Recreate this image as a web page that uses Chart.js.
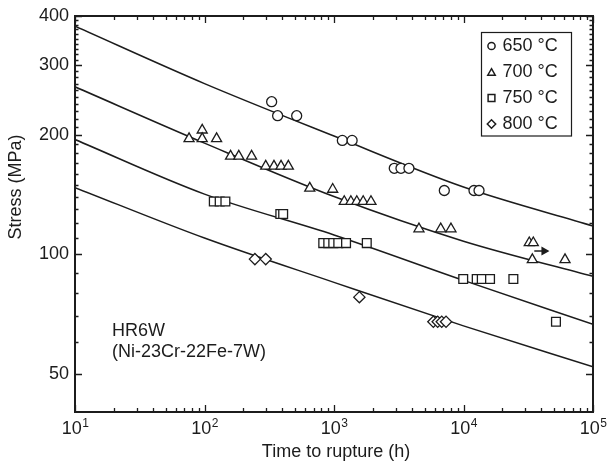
<!DOCTYPE html>
<html><head><meta charset="utf-8">
<script src="https://cdn.jsdelivr.net/npm/chart.js@4"></script>
<style>html,body{margin:0;padding:0;background:#fff;}#wrap{width:609px;height:464px;position:relative;}canvas{display:block;}</style>
</head><body><div id="wrap"><canvas id="c" width="609" height="464" style="width:609px;height:464px"></canvas></div>
<script>
// ---- data ----
const t650 = [330, 367, 515, 1160, 1380, 2920, 3290, 3790, 7110, 12050, 13180];
const s650 = [243, 224, 224, 194, 194, 165, 165, 165, 145, 145, 145];
const t700 = [76, 96, 96, 124, 159, 184, 231, 297, 344, 390, 444, 650, 977, 1200, 1350, 1500, 1680, 1930, 4530, 6670, 8000, 32200, 34600, 34000, 60800];
const s700 = [196, 206, 196, 196, 177, 177, 177, 167, 167, 167, 167, 147, 146, 136, 136, 136, 136, 136, 116, 116, 116, 107, 107, 97, 97];
const t750 = [118, 131, 145, 385, 405, 826, 903, 987, 1079, 1239, 1791, 9950, 12650, 13840, 16030, 24270, 51760];
const s750 = [136, 136, 136, 126.5, 126.5, 106.8, 106.8, 106.8, 106.8, 106.8, 106.8, 86.7, 86.7, 86.7, 86.7, 86.7, 67.6];
const t800 = [245, 297, 1570, 5850, 6320, 6790, 7330];
const s800 = [97.3, 97.3, 78, 67.6, 67.6, 67.6, 67.6];
// run-out arrow (700 °C)
const arrowT = [35200, 41900];
const arrowS = [102, 102];
// fitted curves
const fitT = [10, 100, 1000, 10000, 100000];
const fit650 = [377, 270, 199, 148, 118];
const fit700 = [265, 191, 140, 108, 88];
const fit750 = [195, 142, 112, 86, 66.6];
const fit800 = [147.5, 110, 85, 66, 52];
// axes
const xTickValues = [10, 100, 1000, 10000, 100000];
const xTickBase = ['10', '10', '10', '10', '10'];
const xTickExp = ['1', '2', '3', '4', '5'];
const yTickValues = [50, 100, 200, 300, 400];
const yTickLabels = ['50', '100', '200', '300', '400'];
const seriesLabels = ['650 °C', '700 °C', '750 °C', '800 °C'];
const xTitle = 'Time to rupture (h)';
const yTitle = 'Stress (MPa)';
const noteLines = ['HR6W', '(Ni-23Cr-22Fe-7W)'];

const FONT = '"Liberation Sans", Arial, Helvetica, sans-serif';
const INK = '#1c1c1c';

function pts(t, s) { return t.map((v, i) => ({ x: v, y: s[i] })); }
function markers(label, t, s, style, r) {
  return { label, data: pts(t, s), showLine: false, pointStyle: style, pointRadius: r, pointHoverRadius: r,
    pointBorderColor: INK, pointBackgroundColor: '#fff', pointBorderWidth: 1.3, order: 1 };
}
function fit(t, s) {
  return { label: '_fit', data: pts(t, s), showLine: true, pointRadius: 0, borderColor: INK, borderWidth: 1.5,
    cubicInterpolationMode: 'monotone', fill: false, order: 2 };
}

const legendStyles = [
  { pointStyle: 'circle', radius: 3.6 },
  { pointStyle: 'triangle', radius: 4.3 },
  { pointStyle: 'rect', radius: 4.8 },
  { pointStyle: 'rectRot', radius: 4.2 }
];

const decor = {
  id: 'decor',
  afterDraw(chart) {
    const ctx = chart.ctx, a = chart.chartArea, xs = chart.scales.x, ys = chart.scales.y;
    ctx.save();
    // frame
    ctx.strokeStyle = INK; ctx.lineWidth = 2;
    ctx.strokeRect(a.left, a.top, a.right - a.left, a.bottom - a.top);
    ctx.lineWidth = 1.3;
    // x ticks (top + bottom, inward)
    ctx.beginPath();
    for (let e = 1; e <= 5; e++) {
      for (let m = 1; m <= 9; m++) {
        const v = m * Math.pow(10, e);
        if (v > 100000) break;
        const px = Math.round(xs.getPixelForValue(v)) + 0.5;
        const len = m === 1 ? 7 : 4;
        ctx.moveTo(px, a.bottom); ctx.lineTo(px, a.bottom - len);
        ctx.moveTo(px, a.top); ctx.lineTo(px, a.top + len);
      }
    }
    // y ticks (left + right, inward)
    for (let v = 50; v <= 400; v += 10) {
      const py = Math.round(ys.getPixelForValue(v)) + 0.5;
      const len = yTickValues.includes(v) ? 7 : 3.5;
      ctx.moveTo(a.left, py); ctx.lineTo(a.left + len, py);
      ctx.moveTo(a.right, py); ctx.lineTo(a.right - len, py);
    }
    ctx.stroke();
    // tick labels
    ctx.fillStyle = INK;
    ctx.font = '18px ' + FONT;
    ctx.textAlign = 'right'; ctx.textBaseline = 'middle';
    yTickValues.forEach((v, i) => ctx.fillText(yTickLabels[i], a.left - 6, ys.getPixelForValue(v)));
    ctx.textAlign = 'left'; ctx.textBaseline = 'alphabetic';
    xTickValues.forEach((v, i) => {
      ctx.font = '18px ' + FONT;
      const wb = ctx.measureText(xTickBase[i]).width;
      ctx.font = '12px ' + FONT;
      const we = ctx.measureText(xTickExp[i]).width;
      const x0 = xs.getPixelForValue(v) - (wb + we) / 2;
      ctx.font = '18px ' + FONT;
      ctx.fillText(xTickBase[i], x0, a.bottom + 22);
      ctx.font = '12px ' + FONT;
      ctx.fillText(xTickExp[i], x0 + wb + 0.5, a.bottom + 15);
    });
    // axis titles
    ctx.font = '18px ' + FONT;
    ctx.textAlign = 'center'; ctx.textBaseline = 'middle';
    ctx.fillText(xTitle, (a.left + a.right) / 2 + 2, a.bottom + 40);
    ctx.save();
    ctx.translate(16, 187); ctx.rotate(-Math.PI / 2);
    ctx.fillText(yTitle, 0, 0);
    ctx.restore();
    // note
    ctx.textAlign = 'left'; ctx.textBaseline = 'alphabetic';
    ctx.fillText(noteLines[0], a.left + 37, 336);
    ctx.fillText(noteLines[1], a.left + 37, 357);
    // legend
    const lx = a.right - 111.5, ly = a.top + 16.5, lw = 90, lh = 103.5;
    ctx.lineWidth = 1.2; ctx.strokeStyle = INK;
    ctx.strokeRect(lx, ly, lw, lh);
    seriesLabels.forEach((lab, i) => {
      const cy = ly + 13.5 + i * 26;
      ctx.strokeStyle = INK; ctx.fillStyle = '#fff'; ctx.lineWidth = 1.5;
      Chart.helpers.drawPoint(ctx, { pointStyle: legendStyles[i].pointStyle, radius: legendStyles[i].radius, rotation: 0, borderWidth: 1.5 }, lx + 10, cy + (i === 1 ? 1 : 0));
      ctx.fillStyle = INK; ctx.textBaseline = 'middle';
      ctx.fillText(lab, lx + 21, cy);
    });
    ctx.restore();
  }
};

new Chart(document.getElementById('c'), {
  type: 'scatter',
  data: {
    datasets: [
      markers(seriesLabels[0], t650, s650, 'circle', 5),
      markers(seriesLabels[1], t700, s700, 'triangle', 5.8),
      markers(seriesLabels[2], t750, s750, 'rect', 6.2),
      markers(seriesLabels[3], t800, s800, 'rectRot', 5.6),
      fit(fitT, fit650), fit(fitT, fit700), fit(fitT, fit750), fit(fitT, fit800),
      { label: '_arrow', data: pts(arrowT, arrowS), showLine: true, borderColor: INK, borderWidth: 1.5,
        pointRadius: [0, 3.8], pointStyle: 'triangle', rotation: 90, pointBackgroundColor: INK, pointBorderColor: INK, order: 1 }
    ]
  },
  options: {
    responsive: false, animation: false, maintainAspectRatio: false,
    devicePixelRatio: 1,
    layout: { padding: { top: 16, right: 16, left: 0, bottom: 0 } },
    plugins: { legend: { display: false }, tooltip: { enabled: false } },
    scales: {
      x: { type: 'logarithmic', min: 10, max: 100000, grid: { display: false }, border: { display: false },
           ticks: { display: false }, afterFit(s) { s.height = 52; } },
      y: { type: 'logarithmic', min: 40, max: 400, grid: { display: false }, border: { display: false },
           ticks: { display: false }, afterFit(s) { s.width = 75; } }
    }
  },
  plugins: [decor]
});
</script>
</body></html>
